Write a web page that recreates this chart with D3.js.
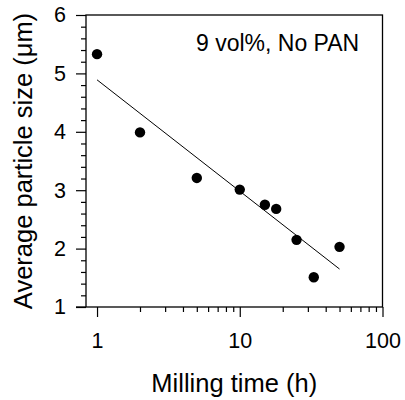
<!DOCTYPE html>
<html>
<head>
<meta charset="utf-8">
<script src="https://cdn.jsdelivr.net/npm/d3@7"></script>
<style>
  html, body { margin: 0; padding: 0; background: #fff; }
  svg { display: block; }
  text { font-family: "Liberation Sans", Arial, Helvetica, sans-serif; fill: #000; }
</style>
</head>
<body>
<svg id="chart" width="405" height="400"></svg>
<script>
// ---- data ----
const millingTime = [1, 2, 5, 10, 15, 18, 25, 33, 50];
const particleSize = [5.33, 3.99, 3.21, 3.01, 2.75, 2.68, 2.15, 1.51, 2.03];
const fitTime = [1, 50];
const fitSize = [4.89, 1.65];
const xTickValues = [1, 10, 100];
const yTickValues = [1, 2, 3, 4, 5, 6];
const annotation = "9 vol%, No PAN";
const xTitle = "Milling time (h)";
const yTitle = "Average particle size (\u03bcm)";

// ---- layout ----
const W = 405, H = 400;
const plot = { left: 86, right: 382.5, top: 15, bottom: 307 };
const svg = d3.select("#chart");

const x = d3.scaleLog().domain([0.837, 100]).range([plot.left, plot.right]);
const y = d3.scaleLinear().domain([1, 6]).range([plot.bottom, plot.top]);

// minor tick values
const xMinor = [];
[1, 10].forEach(d => { for (let k = 2; k <= 9; k++) xMinor.push(k * d); });
const yMinor = [];
for (let v = 1; v < 6; v += 0.2) { const r = Math.round(v * 10) / 10; if (Math.abs(r - Math.round(r)) > 1e-6) yMinor.push(r); }

// frame
svg.append("rect")
  .attr("x", plot.left).attr("y", plot.top)
  .attr("width", plot.right - plot.left).attr("height", plot.bottom - plot.top)
  .attr("fill", "none").attr("stroke", "#000").attr("stroke-width", 1.3);

// y axis
const gy = svg.append("g").attr("transform", `translate(${plot.left},0)`);
gy.call(d3.axisLeft(y).tickValues(yTickValues).tickSize(10).tickPadding(10).tickFormat(d3.format("d")));
const gyMinor = svg.append("g").attr("transform", `translate(${plot.left},0)`);
gyMinor.call(d3.axisLeft(y).tickValues(yMinor).tickSize(5).tickFormat(""));

// x axis
const gx = svg.append("g").attr("transform", `translate(0,${plot.bottom})`);
gx.call(d3.axisBottom(x).tickValues(xTickValues).tickSize(10).tickPadding(16).tickFormat(d3.format("d")));
const gxMinor = svg.append("g").attr("transform", `translate(0,${plot.bottom})`);
gxMinor.call(d3.axisBottom(x).tickValues(xMinor).tickSize(5).tickFormat(""));

[gy, gyMinor, gx, gxMinor].forEach(g => {
  g.select(".domain").remove();
  g.selectAll(".tick line").attr("stroke", "#000").attr("stroke-width", 1.2);
  g.selectAll(".tick text").attr("font-size", 21.5).attr("font-family", '"Liberation Sans", Arial, sans-serif');
});
// bottom axis line extends left under the y=1 tick
svg.append("line")
  .attr("x1", plot.left - 10).attr("x2", plot.left)
  .attr("y1", plot.bottom).attr("y2", plot.bottom)
  .attr("stroke", "#000").attr("stroke-width", 1.3);

// fit line
const fitData = fitTime.map((t, i) => [t, fitSize[i]]);
svg.append("path")
  .datum(fitData)
  .attr("d", d3.line().x(d => x(d[0])).y(d => y(d[1])))
  .attr("fill", "none").attr("stroke", "#000").attr("stroke-width", 1);

// points
const pts = millingTime.map((t, i) => [t, particleSize[i]]);
svg.append("g").selectAll("circle").data(pts).join("circle")
  .attr("cx", d => x(d[0])).attr("cy", d => y(d[1]))
  .attr("r", 5.2).attr("fill", "#000");

// annotation
svg.append("text")
  .attr("x", 196).attr("y", 51)
  .attr("font-size", 23)
  .text(annotation);

// axis titles
svg.append("text")
  .attr("x", (plot.left + plot.right) / 2).attr("y", 392)
  .attr("text-anchor", "middle").attr("font-size", 25.5)
  .text(xTitle);

svg.append("text")
  .attr("transform", `translate(32,${(plot.top + plot.bottom) / 2}) rotate(-90)`)
  .attr("text-anchor", "middle").attr("font-size", 25.5)
  .text(yTitle);
</script>
</body>
</html>
